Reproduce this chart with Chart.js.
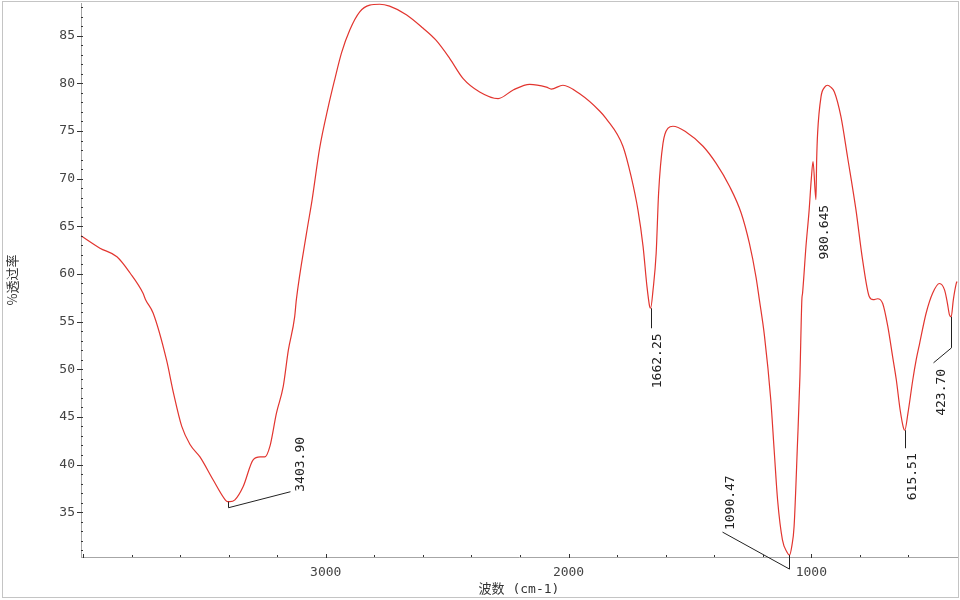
<!DOCTYPE html>
<html>
<head>
<meta charset="utf-8">
<script src="https://cdn.jsdelivr.net/npm/chart.js@4.4.1/dist/chart.umd.min.js"></script>
<style>
    html, body { margin: 0; padding: 0; background: #fff; }
    #wrap { width: 960px; height: 600px; position: relative; }
</style>
</head>
<body>
<div id="wrap"><canvas id="irChart" width="960" height="600"></canvas></div>
<script>
// Волновые числа (cm-1) и пропускание (%T)
const wavenumbers = [
    4008, 3930, 3860, 3806, 3753, 3742, 3711, 3656, 3627, 3593,
    3559, 3518, 3464, 3414, 3404, 3395, 3374, 3340, 3299, 3270,
    3251, 3230, 3203, 3175, 3154, 3128, 3121, 3079, 3056, 3025,
    2990, 2963, 2935, 2901, 2860, 2819, 2778, 2737, 2668, 2600,
    2545, 2489, 2434, 2366, 2290, 2228, 2160, 2091, 2071, 2023,
    1954, 1872, 1845, 1776, 1742, 1714, 1693, 1677, 1666, 1662,
    1652, 1639, 1629, 1611, 1590, 1570, 1516, 1446, 1392, 1337,
    1289, 1255, 1228, 1214, 1193, 1167, 1153, 1139, 1119, 1100,
    1090, 1080, 1071, 1057, 1047, 1039, 1036, 1022, 1009, 1000,
    993, 981, 978, 974, 960, 945, 933, 920, 905, 878,
    851, 816, 789, 761, 745, 727, 706, 685, 665, 650,
    634, 620, 615, 602, 582, 568, 554, 527, 500, 472,
    451, 440, 431, 424, 415, 403, 400
];
const transmittance = [
    64.0, 62.7, 61.8, 60.1, 58.0, 57.3, 55.9, 51.0, 47.5, 44.0,
    42.1, 40.8, 38.4, 36.3, 36.1, 36.1, 36.3, 37.7, 40.5, 40.8,
    40.8, 41.9, 45.4, 48.2, 52.0, 55.5, 57.3, 64.3, 67.8, 73.2,
    77.5, 80.4, 83.2, 85.6, 87.5, 88.2, 88.3, 88.1, 87.2, 85.8,
    84.5, 82.6, 80.5, 79.1, 78.4, 79.3, 79.9, 79.6, 79.4, 79.8,
    78.9, 77.1, 76.3, 73.4, 70.2, 66.7, 62.9, 58.7, 56.6, 56.4,
    58.3, 62.2, 68.5, 73.7, 75.3, 75.5, 74.9, 73.4, 71.6, 69.2,
    66.4, 63.2, 59.7, 57.3, 53.5, 46.8, 41.5, 36.3, 32.1, 30.8,
    30.5, 31.5, 33.5, 42.2, 49.2, 57.3, 58.0, 62.9, 66.7, 70.0,
    71.8, 67.8, 72.0, 74.8, 78.6, 79.6, 79.8, 79.6, 79.1, 76.5,
    72.3, 66.7, 61.5, 57.6, 57.3, 57.4, 56.9, 54.5, 51.3, 48.9,
    45.7, 43.8, 43.6, 45.4, 48.9, 51.0, 52.7, 55.9, 58.0, 59.0,
    58.3, 57.0, 55.7, 55.5, 57.3, 59.0, 59.2
];
const xTickLabels = [1000, 2000, 3000];
const yTickLabels = [35, 40, 45, 50, 55, 60, 65, 70, 75, 80, 85];
const peakLabels = ['3403.90', '1662.25', '1090.47', '980.645', '615.51', '423.70'];
const peakPositions = [3404, 1662, 1090, 981, 615, 424];

// Выноски к пикам: ломаная и точка начала текста, смещения от пика в px
const leaders = [
    { line: [[0, 0], [0, 6], [62, -10]], text: [73, -10] },
    { line: [[0, 0], [0, 20]], text: [7, 80] },
    { line: [[0, 0], [0, 14], [-67, -23]], text: [-59, -25] },
    { line: [], text: [9, 60] },
    { line: [[0, 0], [0, 18]], text: [8, 70] },
    { line: [[0, 0], [0, 31], [-18, 46]], text: [-10, 99] }
];

const monoFont = '"DejaVu Sans Mono", "Liberation Mono", monospace';

// Рамка, мелкие засечки и подписи пиков
const spectrumDecor = {
    id: 'spectrumDecor',
    afterDraw(chart) {
        const ctx = chart.ctx;
        const xs = chart.scales.x;
        const ys = chart.scales.y;
        const area = chart.chartArea;

        ctx.save();
        // внешняя рамка
        ctx.strokeStyle = '#c4c4c4';
        ctx.lineWidth = 1;
        ctx.strokeRect(2.5, 1.5, 956, 596);

        // засечки оси Y
        ctx.fillStyle = '#333';
        for (let v = 31; v <= 88; v++) {
            const py = Math.round(ys.getPixelForValue(v));
            if (v % 5 === 0) ctx.fillRect(area.left - 4, py, 6, 1);
            else ctx.fillRect(area.left, py, 2, 1);
        }
        // засечки оси X
        for (let w = 600; w <= 4000; w += 200) {
            const px = Math.round(xs.getPixelForValue(w));
            if (w % 1000 === 0) ctx.fillRect(px, area.bottom - 3, 1, 4);
            else ctx.fillRect(px, area.bottom - 2, 1, 2);
        }

        // подписи пиков
        ctx.strokeStyle = '#222';
        ctx.fillStyle = '#222';
        ctx.lineWidth = 1;
        ctx.font = '13px ' + monoFont;
        peakLabels.forEach((label, i) => {
            let idx = 0;
            wavenumbers.forEach((w, j) => {
                if (Math.abs(w - peakPositions[i]) < Math.abs(wavenumbers[idx] - peakPositions[i])) idx = j;
            });
            const px = xs.getPixelForValue(peakPositions[i]);
            const py = ys.getPixelForValue(transmittance[idx]);
            const ld = leaders[i];
            if (ld.line.length) {
                ctx.beginPath();
                ld.line.forEach((p, k) => {
                    const lx = Math.round(px + p[0]) + 0.5;
                    const ly = py + p[1];
                    if (k === 0) ctx.moveTo(lx, ly); else ctx.lineTo(lx, ly);
                });
                ctx.stroke();
            }
            ctx.save();
            ctx.translate(px + ld.text[0], py + ld.text[1]);
            ctx.rotate(-Math.PI / 2);
            ctx.textAlign = 'left';
            ctx.textBaseline = 'middle';
            ctx.fillText(label, 0, 0);
            ctx.restore();
        });
        ctx.restore();
    }
};

const ctx = document.getElementById('irChart').getContext('2d');
new Chart(ctx, {
    type: 'line',
    data: {
        datasets: [{
            data: wavenumbers.map((w, i) => ({ x: w, y: transmittance[i] })),
            borderColor: '#e2352f',
            borderWidth: 1.2,
            pointRadius: 0,
            cubicInterpolationMode: 'monotone',
            fill: false,
            clip: false
        }]
    },
    options: {
        responsive: false,
        animation: false,
        devicePixelRatio: 1,
        layout: { padding: { top: 3, right: 3, left: 0, bottom: 0 } },
        plugins: { legend: { display: false }, tooltip: { enabled: false } },
        scales: {
            x: {
                type: 'linear',
                reverse: true,
                min: 400,
                max: 4008,
                grid: { display: false, drawTicks: false },
                border: { display: true, color: '#a6a6a6', width: 1 },
                afterBuildTicks: s => { s.ticks = xTickLabels.map(v => ({ value: v })); },
                afterFit: s => {
                    s.height = 43;
                    s.paddingLeft = s.paddingRight = s.paddingTop = s.paddingBottom = 0;
                },
                ticks: {
                    autoSkip: false,
                    maxRotation: 0,
                    padding: 8,
                    color: '#444',
                    font: { family: monoFont, size: 13 },
                    callback: v => String(v)
                },
                title: {
                    display: true,
                    text: '波数 (cm-1)',
                    color: '#333',
                    padding: { top: 0, bottom: 3 },
                    font: { family: '"DejaVu Sans Mono", "Noto Sans CJK SC"', size: 13 }
                }
            },
            y: {
                min: 30.3,
                max: 88.43,
                grid: { display: false, drawTicks: false },
                border: { display: true, color: '#a6a6a6', width: 1 },
                afterBuildTicks: s => { s.ticks = yTickLabels.map(v => ({ value: v })); },
                afterFit: s => {
                    s.width = 81;
                    s.paddingLeft = s.paddingRight = s.paddingTop = s.paddingBottom = 0;
                },
                ticks: {
                    autoSkip: false,
                    padding: 6,
                    color: '#444',
                    font: { family: monoFont, size: 13 },
                    callback: v => String(v)
                },
                title: {
                    display: true,
                    text: '%透过率',
                    color: '#333',
                    padding: { top: 4, bottom: 0 },
                    font: { family: '"Noto Sans CJK SC", "DejaVu Sans Mono"', size: 13 }
                }
            }
        }
    },
    plugins: [spectrumDecor]
});
</script>
</body>
</html>
